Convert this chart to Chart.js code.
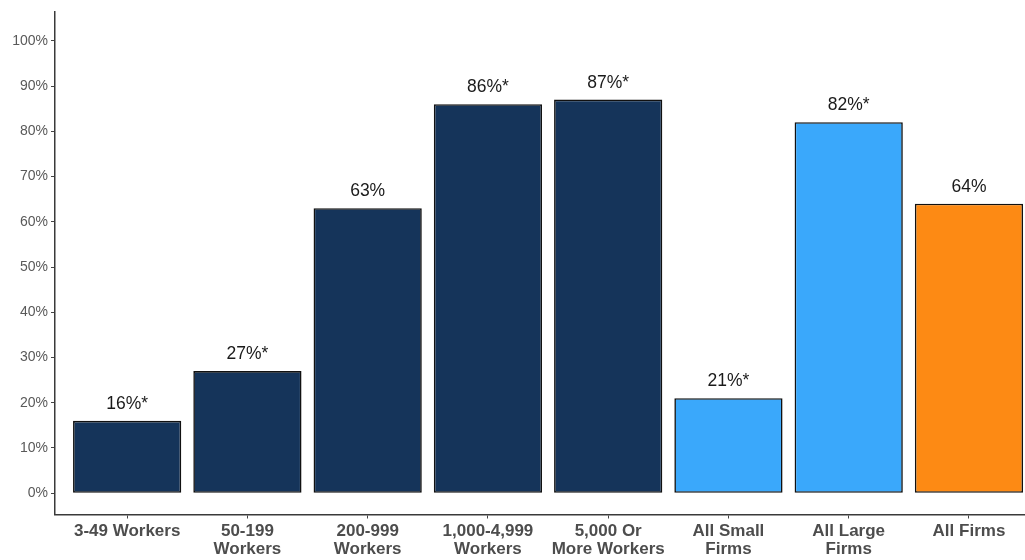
<!DOCTYPE html>
<html>
<head>
<meta charset="utf-8">
<script src="https://cdn.jsdelivr.net/npm/chart.js@4.4.1/dist/chart.umd.min.js"></script>
<style>
  html, body { margin: 0; padding: 0; background: #ffffff; overflow: hidden; }
  #wrap { width: 1025px; height: 560px; position: relative; }
</style>
</head>
<body>
<div id="wrap"><canvas id="chart" width="1025" height="560"></canvas></div>
<script>
// Firm-size groups shown along the x axis (each entry is one label, split into lines)
const categories = [
  ['3-49 Workers'],
  ['50-199', 'Workers'],
  ['200-999', 'Workers'],
  ['1,000-4,999', 'Workers'],
  ['5,000 Or', 'More Workers'],
  ['All Small', 'Firms'],
  ['All Large', 'Firms'],
  ['All Firms']
];
// Percentage for each group
const values = [16, 27, 63, 86, 87, 21, 82, 64];
// Groups whose estimate is flagged with an asterisk
const flagged = [true, true, false, true, true, true, true, false];
// Fill colour for each group
const barColors = ['#15345a', '#15345a', '#15345a', '#15345a', '#15345a', '#3aa8fb', '#3aa8fb', '#fd8a14'];
// Y axis tick values
const yTicks = [0, 10, 20, 30, 40, 50, 60, 70, 80, 90, 100];

const points = values.map((v, i) => ({ x: i, y: v }));
const labelText = values.map((v, i) => v + '%' + (flagged[i] ? '*' : ''));

const valueLabels = {
  id: 'valueLabels',
  afterDatasetsDraw(chart) {
    const ctx = chart.ctx;
    const meta = chart.getDatasetMeta(0);
    ctx.save();
    ctx.font = '17.5px "Liberation Sans", Arial, sans-serif';
    ctx.fillStyle = '#1a1a1a';
    ctx.textAlign = 'center';
    ctx.textBaseline = 'alphabetic';
    meta.data.forEach((bar, i) => {
      ctx.fillText(labelText[i], bar.x, bar.y - 12);
    });
    ctx.restore();
  }
};

new Chart(document.getElementById('chart'), {
  type: 'bar',
  data: {
    datasets: [{
      data: points,
      backgroundColor: barColors,
      borderColor: '#111111',
      borderWidth: 1.6,
      borderSkipped: false,
      barPercentage: 0.9,
      categoryPercentage: 1.0
    }]
  },
  options: {
    responsive: false,
    animation: false,
    layout: { padding: { top: 6, left: 0, right: 0, bottom: 0 } },
    plugins: {
      legend: { display: false },
      tooltip: { enabled: false }
    },
    scales: {
      x: {
        type: 'linear',
        offset: false,
        min: -0.6,
        max: 7.466,
        afterBuildTicks(scale) {
          scale.ticks = categories.map((c, i) => ({ value: i }));
        },
        afterFit(scale) { scale.height = 45.5; },
        grid: {
          offset: false,
          drawOnChartArea: false,
          drawTicks: true,
          tickLength: 4,
          color: '#444444',
          lineWidth: 1
        },
        border: { display: true, color: '#3a3a3a', width: 1.5 },
        ticks: {
          autoSkip: false,
          maxRotation: 0,
          minRotation: 0,
          padding: 3,
          color: '#4d4d4d',
          font: { family: '"Liberation Sans", Arial, sans-serif', size: 17, weight: 'bold', lineHeight: 1.1 },
          callback: (v) => categories[v]
        }
      },
      y: {
        min: -4.7,
        max: 106.5,
        afterBuildTicks(scale) {
          scale.ticks = yTicks.map(v => ({ value: v }));
        },
        afterFit(scale) { scale.width = 55; },
        grid: {
          drawOnChartArea: false,
          drawTicks: true,
          tickLength: 4,
          color: '#444444',
          lineWidth: 1
        },
        border: { display: true, color: '#3a3a3a', width: 1.5 },
        ticks: {
          padding: 3,
          color: '#595959',
          font: { family: '"Liberation Sans", Arial, sans-serif', size: 14 },
          callback: (v) => v + '%'
        }
      }
    }
  },
  plugins: [valueLabels]
});
</script>
</body>
</html>
